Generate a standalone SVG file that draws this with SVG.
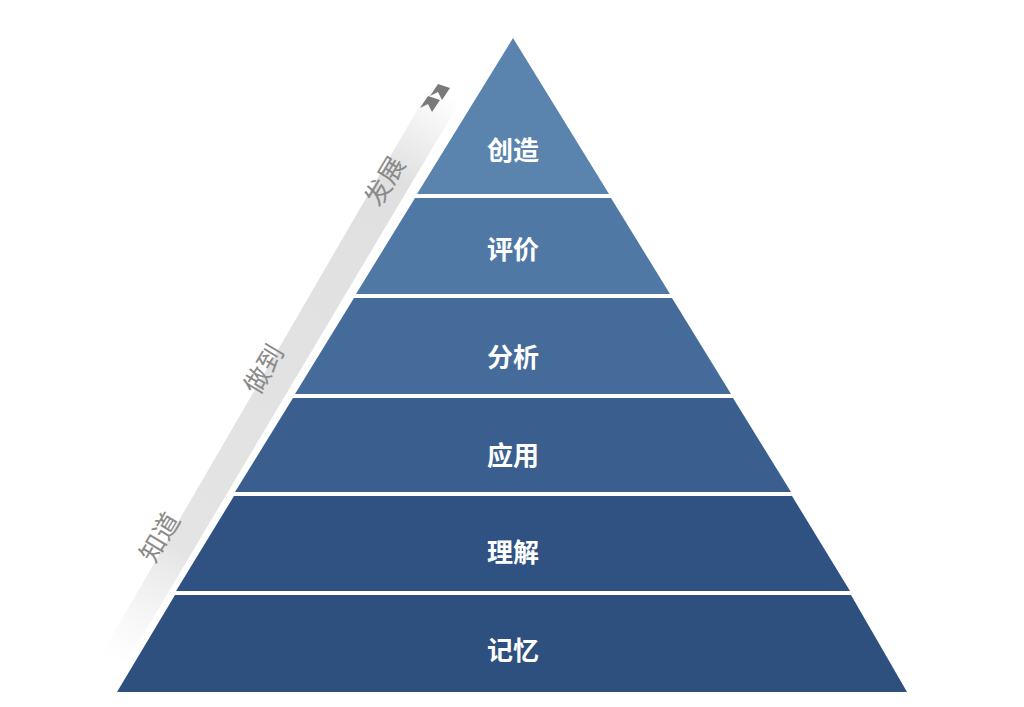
<svg xmlns="http://www.w3.org/2000/svg" width="1024" height="707" viewBox="0 0 1024 707">
<defs>
<linearGradient id="strip" gradientUnits="userSpaceOnUse" x1="440" y1="90" x2="110" y2="660">
<stop offset="0" stop-color="#e0e0e0" stop-opacity="0"/>
<stop offset="0.15" stop-color="#e0e0e0"/>
<stop offset="0.8" stop-color="#e4e4e4"/>
<stop offset="1" stop-color="#eeeeee" stop-opacity="0"/>
</linearGradient>
<style>
.lbl{font-family:"Noto Sans CJK SC",sans-serif;font-size:26px;font-weight:bold;fill:#fff;text-anchor:middle;dominant-baseline:central}
.side{font-family:"Noto Sans CJK SC",sans-serif;font-size:26px;fill:#8a8a8a;text-anchor:middle;dominant-baseline:central}
</style>
</defs>
<rect width="1024" height="707" fill="#fff"/>
<polygon points="461,100 423,100 98,660 128,660" fill="url(#strip)"/>
<g fill="#7a7a7a">
<polygon points="420,108 428,96 440,100 432,112 428,104"/>
<polygon points="430,96 438,84 450,88 442,100 438,92"/>
</g>
<text class="side" transform="translate(383,180) rotate(-59)">发展</text>
<text class="side" transform="translate(262,368) rotate(-59)">做到</text>
<text class="side" transform="translate(158,536) rotate(-59)">知道</text>
<g id="l6"><polygon points="513,38 609,194 417,194" fill="#5a84ae"/><text class="lbl" x="513" y="148">创造</text></g>
<g id="l5"><polygon points="415,198 611,198 670,294 356,294" fill="#4f79a4"/><text class="lbl" x="513" y="247">评价</text></g>
<g id="l4"><polygon points="354,298 672,298 731,394 295,394" fill="#446b99"/><text class="lbl" x="513" y="355">分析</text></g>
<g id="l3"><polygon points="293,398 733,398 791,492 235,492" fill="#3a5f8e"/><text class="lbl" x="513" y="453">应用</text></g>
<g id="l2"><polygon points="234,496 792,496 850,591 176,591" fill="#2f5282"/><text class="lbl" x="513" y="550">理解</text></g>
<g id="l1"><polygon points="175,595 851,595 907,692 117,692" fill="#2d507e"/><text class="lbl" x="513" y="648">记忆</text></g>
<g id="connectors"/>
</svg>
